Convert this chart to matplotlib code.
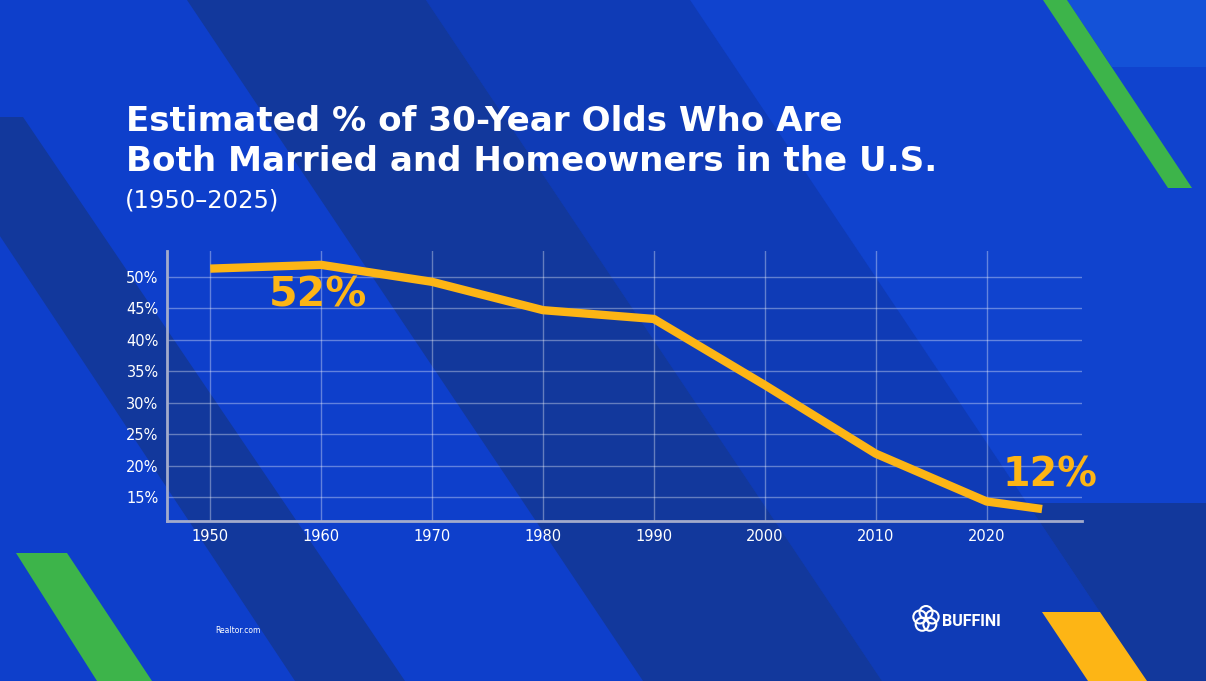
import math
import matplotlib
matplotlib.use("Agg")
import matplotlib.pyplot as plt
from matplotlib.patches import Polygon, Circle

# data
years = [1950, 1960, 1970, 1980, 1990, 2000, 2010, 2020, 2025]
values = [51.3, 51.9, 49.2, 44.7, 43.3, 32.8, 21.9, 14.3, 13.1]
x_ticks = [1950, 1960, 1970, 1980, 1990, 2000, 2010, 2020]
y_ticks = [15, 20, 25, 30, 35, 40, 45, 50]
y_tick_labels = ["15%", "20%", "25%", "30%", "35%", "40%", "45%", "50%"]

title_1 = "Estimated % of 30-Year Olds Who Are"
title_2 = "Both Married and Homeowners in the U.S."
subtitle = "(1950\u20132025)"
source = "Realtor.com"

YELLOW = "#FDB515"
GREEN = "#3DB44A"
BASE = "#0E3FCB"
DARK = "#12389C"
MID = "#0F3BB6"
LIGHT = "#1043CE"
BRIGHT = "#1452D8"

W, H = 1206, 681
fig = plt.figure(figsize=(W / 100, H / 100), dpi=100)
fig.patch.set_facecolor(BASE)

# background decoration in pixel coordinates
bg = fig.add_axes([0, 0, 1, 1], zorder=0)
bg.set_xlim(0, W)
bg.set_ylim(H, 0)
bg.axis("off")

def band(pts, color):
    bg.add_patch(Polygon(pts, closed=True, facecolor=color, edgecolor="none"))

band([(690, 0), (W, 0), (W, 503), (1027, 503)], LIGHT)
band([(1067, 0), (W, 0), (W, 67), (1112, 67)], BRIGHT)
band([(426, 0), (690, 0), (1146, 681), (882, 681)], MID)
band([(187, 0), (426, 0), (882, 681), (643, 681)], DARK)
band([(-79, 117), (23, 117), (405, 681), (295, 681)], DARK)
band([(1027, 503), (W, 503), (W, 681), (1146, 681)], DARK)
band([(1043, 0), (1067, 0), (1192, 188), (1168, 188)], GREEN)
band([(16, 553), (67, 553), (152, 681), (97, 681)], GREEN)
band([(1042, 612), (1100, 612), (1147, 681), (1088, 681)], YELLOW)

# titles
font = ["DejaVu Sans"]
fig.text(126 / W, 1 - 131 / H, title_1, color="white", fontsize=24.6,
         fontweight="bold", family=font, va="baseline")
fig.text(126 / W, 1 - 171 / H, title_2, color="white", fontsize=24.6,
         fontweight="bold", family=font, va="baseline")
fig.text(125 / W, 1 - 208 / H, subtitle, color="white", fontsize=17.5,
         family=font, va="baseline")

# chart
ax = fig.add_axes([167 / W, 1 - 521 / H, 915 / W, 270 / H], zorder=2)
ax.patch.set_alpha(0)
ax.set_xlim(1946.1, 2028.6)
ax.set_ylim(11.2, 54.1)

ax.set_xticks(x_ticks)
ax.set_yticks(y_ticks)
ax.set_yticklabels(y_tick_labels)
ax.tick_params(length=0, colors="white", labelsize=10.5, pad=6)
for lab in ax.get_xticklabels() + ax.get_yticklabels():
    lab.set_family(font)
ax.grid(True, color="white", alpha=0.35, linewidth=1)
for side in ["top", "right"]:
    ax.spines[side].set_visible(False)
for side in ["left", "bottom"]:
    ax.spines[side].set_color("#A3ABCB")
    ax.spines[side].set_linewidth(2)

ax.plot(years, values, color=YELLOW, linewidth=6, solid_capstyle="butt",
        solid_joinstyle="round", zorder=3)

ax.text(1959.7, 47.0, "52%", color=YELLOW, fontsize=29.5, fontweight="bold",
        family=font, ha="center", va="center")
ax.text(2025.7, 18.4, "12%", color=YELLOW, fontsize=28.5, fontweight="bold",
        family=font, ha="center", va="center")

# footer
fig.text(215 / W, 1 - 633 / H, source, color="white", fontsize=5.5,
         family=font, va="baseline")

logo = fig.add_axes([0, 0, 1, 1], zorder=3)
logo.set_xlim(0, W)
logo.set_ylim(H, 0)
logo.axis("off")
cx, cy = 926, 619
for k in range(5):
    a = math.radians(90 + 72 * k)
    logo.add_patch(Circle((cx + 6.5 * math.cos(a), cy - 6.5 * math.sin(a)), 6.5,
                          facecolor="none", edgecolor="white", linewidth=1.5))
fig.text(942 / W, 1 - 626 / H, "BUFFINI", color="white", fontsize=11.5,
         fontweight="bold", family=["Roboto", "DejaVu Sans"], va="baseline",
         fontstretch="condensed")

fig.savefig("out.png", dpi=100, facecolor=fig.get_facecolor())
